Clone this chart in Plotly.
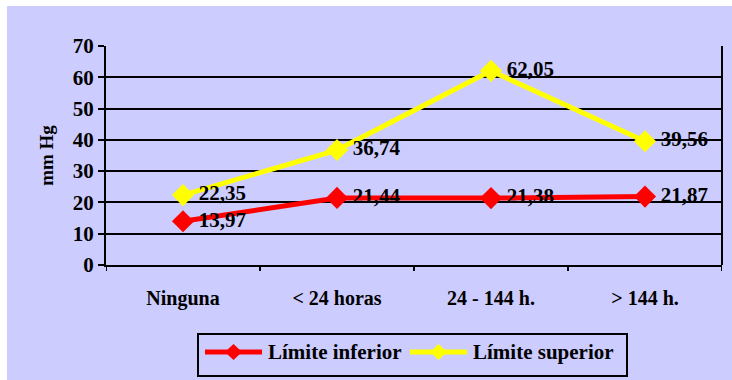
import plotly.graph_objects as go

categorias = ["Ninguna", "< 24 horas", "24 - 144 h.", "> 144 h."]
limite_inferior = [13.97, 21.44, 21.38, 21.87]
limite_superior = [22.35, 36.74, 62.05, 39.56]
y_ticks = [0, 10, 20, 30, 40, 50, 60, 70]

FONT = "Liberation Serif"
BG = "#CCCCFF"

W, H = 732, 380
ML, MR, MT, MB = 106, 10, 46, 115
PW, PH = W - ML - MR, H - MT - MB

series = [
    ("Límite inferior", limite_inferior, "#FF0000"),
    ("Límite superior", limite_superior, "#FFFF00"),
]


def etiqueta(v):
    return f"<b>{v:.2f}</b>".replace(".", ",")


def px(x):
    """Page x pixel -> paper coordinate."""
    return (x - ML) / PW


def py(y):
    """Page y pixel -> paper coordinate."""
    return (MT + PH - y) / PH


fig = go.Figure()
for nombre, valores, color in series:
    fig.add_trace(go.Scatter(
        x=list(range(len(categorias))), y=valores, name=nombre,
        mode="lines+markers+text",
        line=dict(color=color, width=5),
        marker=dict(symbol="diamond", size=17, color=color),
        text=["\u2009" + etiqueta(v) for v in valores],
        textposition="middle right",
        textfont=dict(family=FONT, size=21, color="black"),
        cliponaxis=False,
        showlegend=False,
    ))

fig.update_layout(
    width=W, height=H,
    margin=dict(l=ML, r=MR, t=MT, b=MB, autoexpand=False),
    paper_bgcolor=BG, plot_bgcolor=BG,
    font=dict(family=FONT, color="black"),
    showlegend=False,
    xaxis=dict(
        range=[-0.5, 3.5], automargin=False,
        tickmode="array", tickvals=list(range(len(categorias))),
        ticktext=[f"<b>{c}</b>" for c in categorias],
        tickfont=dict(family=FONT, size=20, color="black"),
        showgrid=False, zeroline=False,
        showline=True, linecolor="black", linewidth=2,
        ticks="", ticklabelstandoff=14,
    ),
    yaxis=dict(
        range=[0, 70], automargin=False,
        tickmode="array", tickvals=y_ticks,
        ticktext=[f"<b>{t}</b>" for t in y_ticks],
        tickfont=dict(family=FONT, size=21, color="black"),
        showgrid=True, gridcolor="black", gridwidth=2,
        zeroline=False,
        showline=True, linecolor="black", linewidth=2, mirror=False,
        ticks="outside", ticklen=6, tickwidth=2, tickcolor="black",
        title=dict(text="<b>mm Hg</b>", font=dict(family=FONT, size=19, color="black"), standoff=14),
    ),
)

# Category separator ticks below the x axis and right-hand frame line
for xb in [-0.5, 0.5, 1.5, 2.5, 3.5]:
    fig.add_shape(type="line", xref="x", yref="paper", x0=xb, x1=xb, y0=0, y1=-6 / PH,
                  line=dict(color="black", width=2))
fig.add_shape(type="line", xref="paper", yref="paper", x0=1, x1=1, y0=0, y1=1,
              line=dict(color="black", width=2))

# Legend box with line + diamond samples
fig.add_shape(type="rect", xref="paper", yref="paper",
              x0=px(198), x1=px(627), y0=py(376), y1=py(334),
              fillcolor=BG, line=dict(color="black", width=2))
ly = 352
entries = [(205, 262, 266), (410, 467, 471)]
for (nombre, _, color), (lx0, lx1, tx) in zip(series, entries):
    fig.add_shape(type="line", xref="paper", yref="paper",
                  x0=px(lx0), x1=px(lx1), y0=py(ly), y1=py(ly),
                  line=dict(color=color, width=5))
    cx = (lx0 + lx1) / 2
    fig.add_shape(type="path", xref="paper", yref="paper",
                  path=(f"M {px(cx - 8.5)},{py(ly)} L {px(cx)},{py(ly - 8)} "
                        f"L {px(cx + 8.5)},{py(ly)} L {px(cx)},{py(ly + 8)} Z"),
                  fillcolor=color, line=dict(width=0))
    fig.add_annotation(xref="paper", yref="paper", x=px(tx), y=py(ly),
                       xanchor="left", yanchor="middle", showarrow=False,
                       text=f"<b>{nombre}</b>",
                       font=dict(family=FONT, size=21, color="black"))

# White strip along the top and left edges of the page
fig.add_shape(type="rect", xref="paper", yref="paper", x0=px(0), x1=px(W),
              y0=py(6), y1=py(0), fillcolor="white", line=dict(width=0), layer="above")
fig.add_shape(type="rect", xref="paper", yref="paper", x0=px(0), x1=px(7),
              y0=py(H), y1=py(0), fillcolor="white", line=dict(width=0), layer="above")

fig.write_html("out.html")
